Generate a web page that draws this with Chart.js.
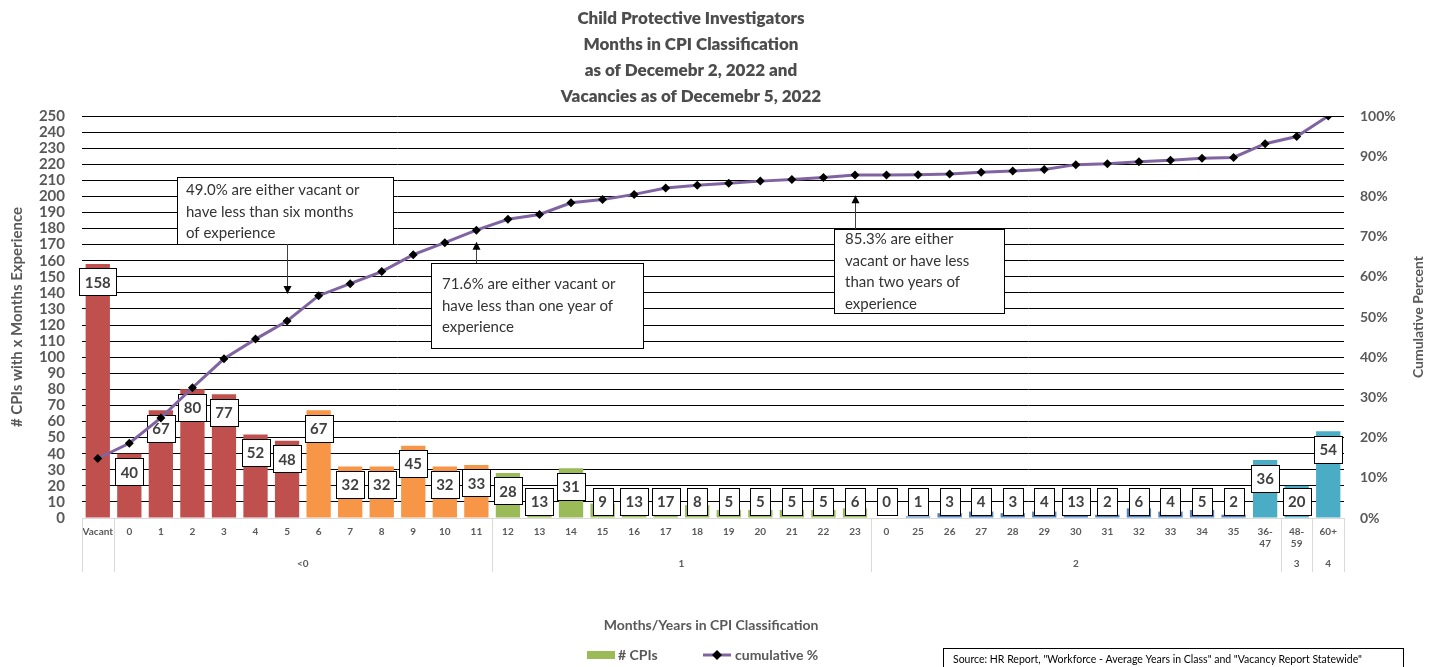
<!DOCTYPE html>
<html>
<head>
<meta charset="utf-8">
<title>Child Protective Investigators</title>
<script src="https://cdn.jsdelivr.net/npm/chart.js@4.4.1/dist/chart.umd.min.js"></script>
<style>
  html, body { margin: 0; padding: 0; background: #fff; }
  #wrap { position: relative; width: 1434px; height: 667px; }
</style>
</head>
<body>
<div id="wrap"><canvas id="cpiChart" width="1434" height="667"></canvas></div>
<script>
// months in classification (bottom row of the x axis)
const monthLabels = [
  'Vacant', '0', '1', '2', '3', '4', '5', '6', '7', '8', '9', '10', '11',
  '12', '13', '14', '15', '16', '17', '18', '19', '20', '21', '22', '23',
  '0', '25', '26', '27', '28', '29', '30', '31', '32', '33', '34', '35',
  ['36-', '47'], ['48-', '59'], '60+'
];
// # CPIs per month bucket
const cpiCounts = [
  158, 40, 67, 80, 77, 52, 48, 67, 32, 32, 45, 32, 33,
  28, 13, 31, 9, 13, 17, 8, 5, 5, 5, 5, 6,
  0, 1, 3, 4, 3, 4, 13, 2, 6, 4, 5, 2,
  36, 20, 54
];
// cumulative % line
const cumulativePct = [
  14.8, 18.6, 24.9, 32.4, 39.6, 44.5, 49.0, 55.3, 58.3, 61.3, 65.5, 68.5, 71.6,
  74.3, 75.5, 78.4, 79.2, 80.5, 82.1, 82.8, 83.3, 83.8, 84.2, 84.7, 85.3,
  85.3, 85.4, 85.6, 86.0, 86.3, 86.7, 87.9, 88.1, 88.6, 89.0, 89.5, 89.7,
  93.1, 94.9, 100
];
// years row of the x axis and how many months each spans
const yearLabels = ['', '<0', '1', '2', '3', '4'];
const yearSpans = [1, 12, 12, 13, 1, 1];

const titleLines = [
  'Child Protective Investigators',
  'Months in CPI Classification',
  'as of Decemebr 2, 2022 and',
  'Vacancies as of Decemebr 5, 2022'
];

// colour bands across the bars
const bandColors = ['#C0504D', '#F79646', '#9BBB59', '#4F81BD', '#4BACC6'];
const bandSizes = [7, 6, 12, 12, 3];
const barColors = [];
bandSizes.forEach((n, b) => { for (let i = 0; i < n; i++) barColors.push(bandColors[b]); });

const FONT = 'Lato, "Open Sans", sans-serif';
const GREY = '#595959';

// callout boxes: box in px, arrow goes to category index "at" and cumulative % "tip"
const notes = [
  { lines: ['49.0% are either vacant or', 'have less than six months', 'of experience'],
    box: [177, 177, 216, 67], pad: [9, 13], at: 6, tip: 55.7 },
  { lines: ['71.6% are either vacant or', 'have less than one year of', 'experience'],
    box: [431, 263, 212, 85], pad: [11, 21], at: 12, tip: 68.7 },
  { lines: ['85.3% are either', 'vacant or have less', 'than two years of', 'experience'],
    box: [834, 229, 170, 84], pad: [11, 10], at: 24, tip: 80.3 }
];

const extras = {
  id: 'extras',
  afterDatasetDraw(chart, args) {
    if (args.index !== 0) return;
    const ctx = chart.ctx;
    const base = chart.scales.y.getPixelForValue(0);
    ctx.save();
    ctx.font = 'bold 15px ' + FONT;
    ctx.textAlign = 'center';
    ctx.textBaseline = 'middle';
    chart.getDatasetMeta(0).data.forEach((bar, i) => {
      const txt = String(cpiCounts[i]);
      const w = Math.round(ctx.measureText(txt).width + 11);
      const h = 27;
      const cy = Math.min(bar.y + 18, base - 17);
      const x0 = Math.round(bar.x - w / 2) + 0.5;
      const y0 = Math.round(cy - h / 2) + 0.5;
      ctx.fillStyle = '#fff';
      ctx.fillRect(x0, y0, w, h);
      ctx.strokeStyle = '#000';
      ctx.lineWidth = 1;
      ctx.strokeRect(x0, y0, w, h);
      ctx.fillStyle = '#404040';
      ctx.fillText(txt, bar.x, cy + 1);
    });
    ctx.restore();
  },
  afterDraw(chart) {
    const ctx = chart.ctx;
    const xs = chart.scales.x;
    const y1 = chart.scales.y1;
    const area = chart.chartArea;
    ctx.save();

    // title
    ctx.fillStyle = '#4d4d4d';
    ctx.font = '800 17px ' + FONT;
    ctx.textAlign = 'center';
    ctx.textBaseline = 'middle';
    titleLines.forEach((t, i) => ctx.fillText(t, 691, 19 + i * 26));

    // year row + separators
    const half = (xs.getPixelForValue(1) - xs.getPixelForValue(0)) / 2;
    const sepTop = area.bottom, sepBot = area.bottom + 54;
    ctx.strokeStyle = '#d9d9d9';
    ctx.lineWidth = 1;
    const vline = (x) => {
      const px = Math.round(x) + 0.5;
      ctx.beginPath(); ctx.moveTo(px, sepTop); ctx.lineTo(px, sepBot); ctx.stroke();
    };
    vline(xs.getPixelForValue(0) - half);
    ctx.font = 'bold 10px ' + FONT;
    ctx.fillStyle = GREY;
    let start = 0;
    yearSpans.forEach((n, g) => {
      const xl = xs.getPixelForValue(start) - half;
      const xr = xs.getPixelForValue(start + n - 1) + half;
      vline(xr);
      if (yearLabels[g]) ctx.fillText(yearLabels[g], (xl + xr) / 2, 564);
      start += n;
    });

    // axis titles
    ctx.font = 'bold 14px ' + FONT;
    ctx.fillText('Months/Years in CPI Classification', 711, 625);
    ctx.save();
    ctx.translate(17, 317);
    ctx.rotate(-Math.PI / 2);
    ctx.font = 'bold 15px ' + FONT;
    ctx.fillText('# CPIs with x Months Experience', 0, 0);
    ctx.restore();
    ctx.save();
    ctx.translate(1418, 317);
    ctx.rotate(-Math.PI / 2);
    ctx.font = 'bold 14px ' + FONT;
    ctx.fillText('Cumulative Percent', 0, 0);
    ctx.restore();

    // callouts
    ctx.font = '15px ' + FONT;
    ctx.textAlign = 'left';
    notes.forEach(n => {
      const [bx, by, bw, bh] = n.box;
      ctx.fillStyle = '#fff';
      ctx.fillRect(bx + 0.5, by + 0.5, bw, bh);
      ctx.strokeStyle = '#000';
      ctx.lineWidth = 1;
      ctx.strokeRect(bx + 0.5, by + 0.5, bw, bh);
      ctx.fillStyle = '#333';
      n.lines.forEach((l, i) => ctx.fillText(l, bx + n.pad[0], by + n.pad[1] + i * 21.7));
      // arrow
      const ax = Math.round(xs.getPixelForValue(n.at)) + 0.5;
      const ty = y1.getPixelForValue(n.tip);
      const fromY = ty > by ? by + bh : by;
      const dir = ty > fromY ? 1 : -1;
      ctx.strokeStyle = '#404040';
      ctx.beginPath(); ctx.moveTo(ax, fromY); ctx.lineTo(ax, ty - dir * 6); ctx.stroke();
      ctx.fillStyle = '#000';
      ctx.beginPath();
      ctx.moveTo(ax, ty);
      ctx.lineTo(ax - 4, ty - dir * 8);
      ctx.lineTo(ax + 4, ty - dir * 8);
      ctx.closePath();
      ctx.fill();
    });

    // legend
    ctx.textBaseline = 'middle';
    ctx.font = 'bold 14px ' + FONT;
    ctx.fillStyle = '#9BBB59';
    ctx.fillRect(587, 651, 28, 8);
    ctx.fillStyle = GREY;
    ctx.fillText('# CPIs', 618, 655);
    ctx.strokeStyle = '#8064A2';
    ctx.lineWidth = 3;
    ctx.beginPath(); ctx.moveTo(703, 655); ctx.lineTo(731, 655); ctx.stroke();
    ctx.fillStyle = '#000';
    ctx.beginPath();
    ctx.moveTo(717, 650); ctx.lineTo(722, 655); ctx.lineTo(717, 660); ctx.lineTo(712, 655);
    ctx.closePath(); ctx.fill();
    ctx.fillStyle = GREY;
    ctx.fillText('cumulative %', 735, 655);

    // source note
    ctx.fillStyle = '#fff';
    ctx.fillRect(943.5, 648.5, 460, 30);
    ctx.strokeStyle = '#000';
    ctx.lineWidth = 1;
    ctx.strokeRect(943.5, 648.5, 460, 30);
    ctx.fillStyle = '#000';
    ctx.font = '10.5px ' + FONT;
    ctx.fillText('Source: HR Report, "Workforce - Average Years in Class" and "Vacancy Report Statewide"', 953, 660);

    ctx.restore();
  }
};

new Chart(document.getElementById('cpiChart'), {
  type: 'bar',
  data: {
    labels: monthLabels,
    datasets: [
      {
        label: '# CPIs',
        data: cpiCounts,
        backgroundColor: barColors,
        barPercentage: 0.77,
        categoryPercentage: 1,
        yAxisID: 'y',
        order: 1
      },
      {
        type: 'line',
        label: 'cumulative %',
        data: cumulativePct,
        borderColor: '#8064A2',
        borderWidth: 3,
        pointStyle: 'rectRot',
        pointRadius: 4.5,
        pointBackgroundColor: '#000',
        pointBorderColor: '#000',
        pointBorderWidth: 0,
        tension: 0,
        yAxisID: 'y1',
        order: 0
      }
    ]
  },
  options: {
    responsive: false,
    animation: false,
    devicePixelRatio: 1,
    layout: { padding: { top: 116, bottom: 89, left: 0, right: 0 } },
    plugins: {
      legend: { display: false },
      title: { display: false },
      tooltip: { enabled: false }
    },
    scales: {
      x: {
        grid: { display: false, drawTicks: false },
        border: { display: true, color: '#d9d9d9' },
        ticks: {
          autoSkip: false,
          maxRotation: 0,
          padding: 8,
          color: GREY,
          font: { family: FONT, size: 10, weight: 'bold' }
        },
        afterFit(s) { s.height = 60; }
      },
      y: {
        position: 'left',
        min: 0,
        max: 250,
        ticks: {
          stepSize: 10,
          autoSkip: false,
          padding: 17,
          color: GREY,
          font: { family: FONT, size: 15, weight: 'bold' }
        },
        grid: {
          drawTicks: false,
          color: (c) => c.tick && c.tick.value === 0 ? '#d9d9d9' : '#000'
        },
        border: { display: false },
        afterFit(s) { s.width = 82; }
      },
      y1: {
        position: 'right',
        min: 0,
        max: 100,
        ticks: {
          stepSize: 10,
          autoSkip: false,
          padding: 16,
          color: GREY,
          font: { family: FONT, size: 14, weight: 'bold' },
          callback: (v) => v + '%'
        },
        grid: { display: false, drawTicks: false },
        border: { display: false },
        afterFit(s) { s.width = 90; }
      }
    }
  },
  plugins: [extras]
});
</script>
</body>
</html>
